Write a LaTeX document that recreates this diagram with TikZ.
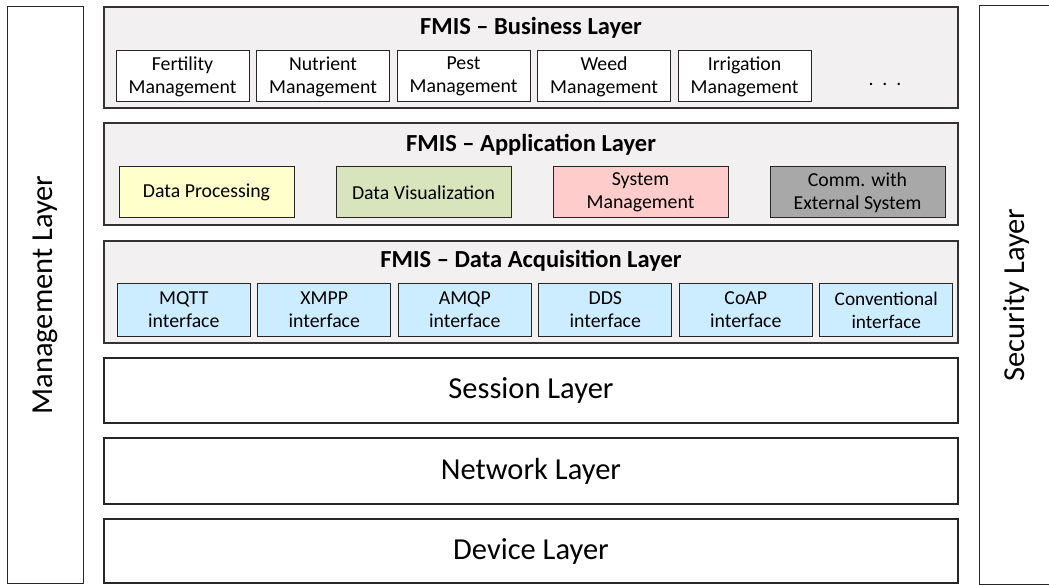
\documentclass[tikz,border=0pt]{standalone}
\usepackage{fontspec}
\setmainfont{Carlito}
\usetikzlibrary{calc,positioning}
\definecolor{layergray}{RGB}{242,240,241}
\definecolor{paleyellow}{RGB}{255,255,204}
\definecolor{palegreen}{RGB}{216,228,188}
\definecolor{palepink}{RGB}{255,204,204}
\definecolor{midgray}{RGB}{168,168,168}
\definecolor{paleblue}{RGB}{204,236,255}
\tikzset{
  side/.style={
    draw=black!85,
    line width=1pt,
    fill=white,
    minimum width=76pt,
    minimum height=577pt,
    inner sep=0pt
  },
  sidetext/.style={
    rotate=90,
    font=\fontsize{30.5}{36}\selectfont
  },
  fmis/.style={
    draw=black!80,
    line width=1.2pt,
    fill=layergray,
    minimum width=854pt,
    minimum height=101pt,
    inner sep=0pt
  },
  lower/.style={
    draw=black!85,
    line width=1.2pt,
    fill=white,
    minimum width=854pt,
    inner sep=0pt,
    font=\fontsize{30.5}{36}\selectfont
  },
  ltitle/.style={
    anchor=base,
    inner sep=0pt,
    font=\fontsize{24.5}{29}\selectfont\bfseries
  },
  service/.style={
    draw=black!85,
    line width=1pt,
    fill=white,
    align=center,
    minimum width=133pt,
    minimum height=51pt,
    inner sep=0pt,
    font=\fontsize{19.8}{23}\selectfont
  },
  appbox/.style={
    service,
    minimum width=175pt
  },
  iface/.style={
    service,
    fill=paleblue,
    minimum height=52pt
  }
}

\begin{document}
\begin{tikzpicture}[x=1pt,y=-1pt,node distance=6.5pt]
\useasboundingbox (0,0) rectangle (1049,585);
% side columns
\node[side] (mgmt) at (45.5,295) {};
\node[sidetext] at (mgmt.center) {Management Layer};
\node[side,minimum width=74pt,minimum height=578pt] (sec) at (1016,295) {};
\node[sidetext] at (sec.center) {Security Layer};
% business layer
\node[fmis] (busi) at (531,57.5) {};
\node[ltitle] at (531,34.5) {FMIS – Business Layer};
\node[service] (fert) at (182.5,76.5) {Fertility\\Management};
\node[service,right=of fert] (nutr) {Nutrient\\Management};
\node[service,right=of nutr] (pest) {Pest\\Management};
\node[service,right=of pest] (weed) {Weed\\Management};
\node[service,right=of weed] (irri) {Irrigation\\Management};
\node[anchor=base,inner sep=0pt,font=\fontsize{19.8}{23}\selectfont] (more) at (885,86) {.\hspace{9pt}.\hspace{9pt}.};
% application layer
\node[fmis,minimum height=102pt] (app) at (531,174) {};
\node[ltitle] at (531,152) {FMIS – Application Layer};
\node[appbox,fill=paleyellow] (proc) at (206.5,192.5) {Data Processing};
\node[appbox,fill=palegreen,right=41pt of proc] (visu) {Data Visualization};
\node[appbox,fill=palepink,right=41pt of visu] (sysm) {System\\Management};
\node[appbox,fill=midgray,right=41pt of sysm] (comm) {Comm. with\\External System};
% data acquisition layer
\node[fmis,minimum height=102pt] (daq) at (531,292) {};
\node[ltitle] at (531,268) {FMIS – Data Acquisition Layer};
\node[iface] (mqtt) at (183.8,310) {MQTT\\interface};
\node[iface,right=of mqtt] (xmpp) {XMPP\\interface};
\node[iface,right=of xmpp] (amqp) {AMQP\\interface};
\node[iface,right=of amqp] (dds) {DDS\\interface};
\node[iface,right=of dds] (coap) {CoAP\\interface};
\node[iface,right=of coap,font=\fontsize{19.3}{23}\selectfont] (conv) {Conventional\\interface};
% lower layers
\node[lower,minimum height=65pt] (sess) at (531,390.5) {Session Layer};
\node[lower,minimum height=66pt] (netw) at (531,471) {Network Layer};
\node[lower,minimum height=64pt] (devi) at (531,551) {Device Layer};
\end{tikzpicture}
\end{document}
